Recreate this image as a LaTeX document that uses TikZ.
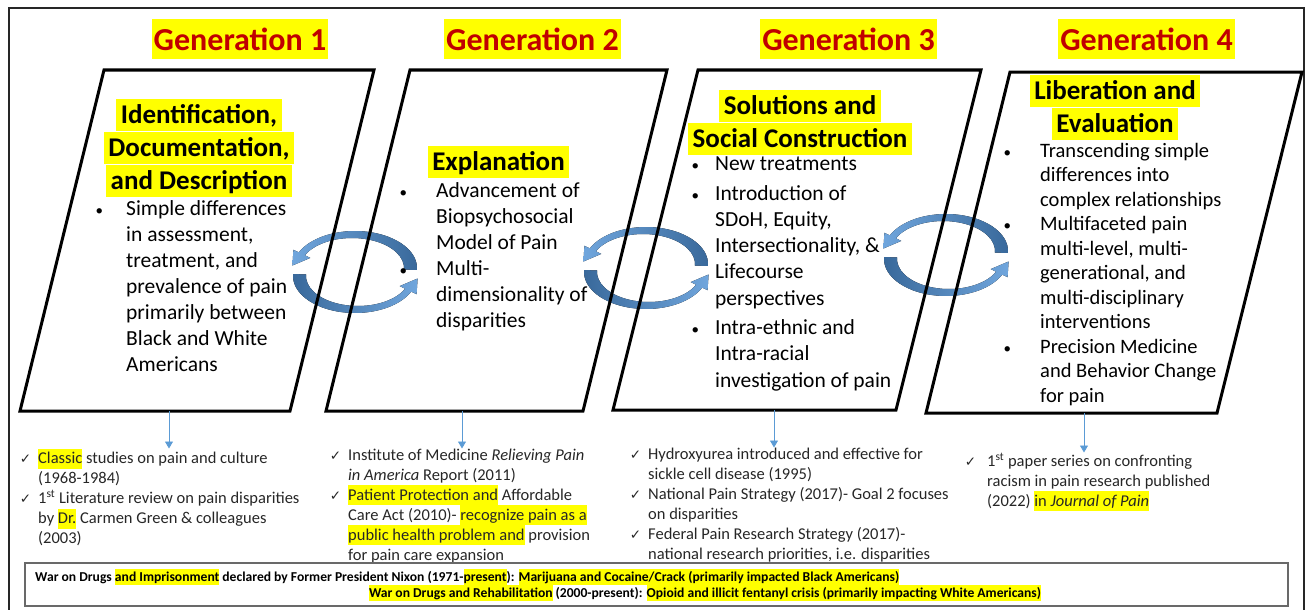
\documentclass[tikz,border=0pt]{standalone}
\usepackage{fontspec}
\setmainfont{Carlito}
\newfontfamily\symfont{DejaVu Sans}
\usetikzlibrary{arrows.meta,calc}
\definecolor{hlyellow}{RGB}{255,255,0}
\definecolor{genred}{RGB}{192,0,0}
\definecolor{listblue}{RGB}{91,155,213}
\definecolor{cyclelight}{RGB}{112,166,221}
\definecolor{cycledark}{RGB}{56,104,154}
\definecolor{framegray}{RGB}{105,105,105}

% highlighter pen, bullets and ticks
\newcommand{\hl}[1]{{\setlength{\fboxsep}{0pt}\colorbox{hlyellow}{\rule[-0.29em]{0pt}{1.2em}#1}}}
\newcommand{\itm}[1][23pt]{\llap{{\fontsize{15}{15}\selectfont\textbullet}\hspace{#1}}\ignorespaces}
\newcommand{\chk}[1][7pt]{\llap{{\symfont\fontsize{13.5}{13.5}\selectfont ✓}\hspace{#1}}\ignorespaces}

% pair of curved arrows turning round (x,y)
\newcommand{\cyclepair}[2]{%
  \begin{scope}[shift={(#1,#2-4)}]
    \fill[left color=cyclelight, right color=cycledark]
      (3:62 and 37) arc[start angle=3, end angle=-155, x radius=62, y radius=37]
      -- (-61.6,-18.2) -- (-62.6,-2.5) -- (-44.7,-10.1)
      -- ($(-3,0)+(-155:52 and 30)$) arc[start angle=-155, end angle=3, x radius=52, y radius=30]
      -- cycle;
  \end{scope}
  \begin{scope}[shift={(#1,#2+4)}]
    \fill[left color=cycledark, right color=cyclelight]
      (183:62 and 37) arc[start angle=183, end angle=25, x radius=62, y radius=37]
      -- (61.6,18.2) -- (62.6,2.5) -- (44.7,10.1)
      -- ($(3,0)+(25:52 and 30)$) arc[start angle=25, end angle=183, x radius=52, y radius=30]
      -- cycle;
  \end{scope}}

\begin{document}
\begin{tikzpicture}[x=1pt,y=-1pt,
  genlabel/.style={fill=hlyellow, text=genred, font=\fontsize{32}{38}\selectfont\bfseries,
    inner xsep=2pt, inner ysep=0pt, minimum height=40pt},
  stagebox/.style={line width=3pt, black},
  stagetitle/.style={align=center, inner sep=0pt, font=\fontsize{27}{33}\selectfont\bfseries},
  stagetext/.style={align=left, inner sep=0pt, anchor=north west,
    font=\fontsize{21.5}{26}\selectfont, execute at begin node=\strut},
  checktext/.style={align=left, inner sep=0pt, anchor=north west, text=black!85,
    font=\fontsize{16.5}{20}\selectfont, execute at begin node=\strut},
  listarrow/.style={draw=listblue, line width=0.8pt, -{Triangle[width=8pt,length=7pt]}},
  drugtext/.style={inner sep=0pt, font=\fontsize{13.6}{16}\selectfont\bfseries}]

\useasboundingbox (0,0) rectangle (1311,610);

% outer frame
\draw[line width=2pt, black!85] (9,8) rectangle (1304,613);

% generation headings
\node[genlabel] (gen1) at (240,39) {Generation 1};
\node[genlabel] (gen2) at (532.5,39) {Generation 2};
\node[genlabel] (gen3) at (848.5,39) {Generation 3};
\node[genlabel] (gen4) at (1146.5,39) {Generation 4};

% turning arrows between neighbouring stages (under the outlines)
\cyclepair{355}{272}
\cyclepair{646}{268}
\cyclepair{946}{255}

% stage outlines
\draw[stagebox] (104,70) -- (374,70) -- (290,411) -- (20,411) -- cycle;
\draw[stagebox] (410,70) -- (667,70) -- (583,411) -- (326,411) -- cycle;
\draw[stagebox] (698,70) -- (981,70) -- (896,410) -- (613,410) -- cycle;
\draw[stagebox] (1010,72) -- (1302,72) -- (1217,413) -- (926,413) -- cycle;

% stage 1
\node[stagetitle, anchor=north] (g1title) at (199,98.8)
  {\hl{\,Identification,\,}\\ \hl{\,Documentation,\,}\\ \hl{\,and Description\,}};
\node[stagetext] (g1text) at (126,200.8)
  {\itm Simple differences\\ in assessment,\\ treatment, and\\ prevalence of pain\\
   primarily between\\ Black and White\\ Americans};

% stage 2
\node[stagetitle] (g2title) at (498.5,162) {\hl{\,Explanation\,}};
\node[stagetext] (g2text) at (436,182.8)
  {\itm[29pt] Advancement of\\ Biopsychosocial\\ Model of Pain\\
   \itm[29pt] Multi-\\ dimensionality of\\ disparities};

% stage 3
\node[stagetitle, anchor=north] (g3title) at (800,89.8)
  {\hl{\,Solutions and\,}\\ \hl{\,Social Construction\,}};
\node[stagetext, font=\fontsize{21.5}{26.3}\selectfont] (g3text) at (715,156.8)
  {\itm[16pt] New treatments\\[3pt]
   \itm[16pt] Introduction of\\ SDoH, Equity,\\ Intersectionality, \&\\ Lifecourse\\ perspectives\\[3pt]
   \itm[16pt] Intra-ethnic and\\ Intra-racial\\ investigation of pain};

% stage 4
\node[stagetitle, anchor=north] (g4title) at (1115,74.8)
  {\hl{\,Liberation and\,}\\ \hl{\,Evaluation\,}};
\node[stagetext, font=\fontsize{20.5}{24.5}\selectfont] (g4text) at (1040,142.7)
  {\itm[29pt] Transcending simple\\ differences into\\ complex relationships\\
   \itm[29pt] Multifaceted pain\\ multi-level, multi-\\ generational, and\\ multi-disciplinary\\ interventions\\
   \itm[29pt] Precision Medicine\\ and Behavior Change\\ for pain};

% milestones under each stage
\coordinate (g1foot) at (169,411);
\coordinate (g2foot) at (462,411);
\coordinate (g3foot) at (774,410);
\coordinate (g4foot) at (1084,413);

\node[checktext] (g1list) at (38,448.5)
  {\chk \hl{Classic} studies on pain and culture\\ (1968-1984)\\
   \chk 1\textsuperscript{st} Literature review on pain disparities\\
   by \hl{Dr.} Carmen Green \& colleagues\\ (2003)};
\node[checktext] (g2list) at (348,448.5)
  {\chk Institute of Medicine \textit{Relieving Pain}\\ \textit{in America} Report (2011)\\
   \chk \hl{Patient Protection and} Affordable\\ Care Act (2010)- \hl{recognize pain as a}\\
   \hl{public health problem and} provision\\ for pain care expansion};
\node[checktext] (g3list) at (648,447.5)
  {\chk Hydroxyurea introduced and effective for\\ sickle cell disease (1995)\\
   \chk National Pain Strategy (2017)- Goal 2 focuses\\ on disparities\\
   \chk Federal Pain Research Strategy (2017)-\\ national research priorities, i.e. disparities};
\node[checktext] (g4list) at (987,452.5)
  {\chk[11pt] 1\textsuperscript{st} paper series on confronting\\ racism in pain research published\\
   (2022) \hl{in \textit{Journal of Pain}}};

\draw[listarrow] (g1foot) -- (g1foot |- g1list.north);
\draw[listarrow] (g2foot) -- (g2foot |- g2list.north);
\draw[listarrow] (g3foot) -- (g3foot |- g3list.north);
\draw[listarrow] (g4foot) -- (g4foot |- g4list.north);

% drug policy banner
\draw[framegray, line width=1.2pt, fill=white] (25,563) rectangle (1288,606);
\node[drugtext, anchor=west] (drugs1) at (35,577)
  {War on Drugs \hl{and Imprisonment} declared by Former President Nixon (1971-\hl{present}):
   \hl{Marijuana and Cocaine/Crack (primarily impacted Black Americans)}};
\node[drugtext] (drugs2) at (705,593)
  {\hl{War on Drugs and Rehabilitation} (2000-present):
   \hl{Opioid and illicit fentanyl crisis (primarily impacting White Americans)}};

\end{tikzpicture}
\end{document}
